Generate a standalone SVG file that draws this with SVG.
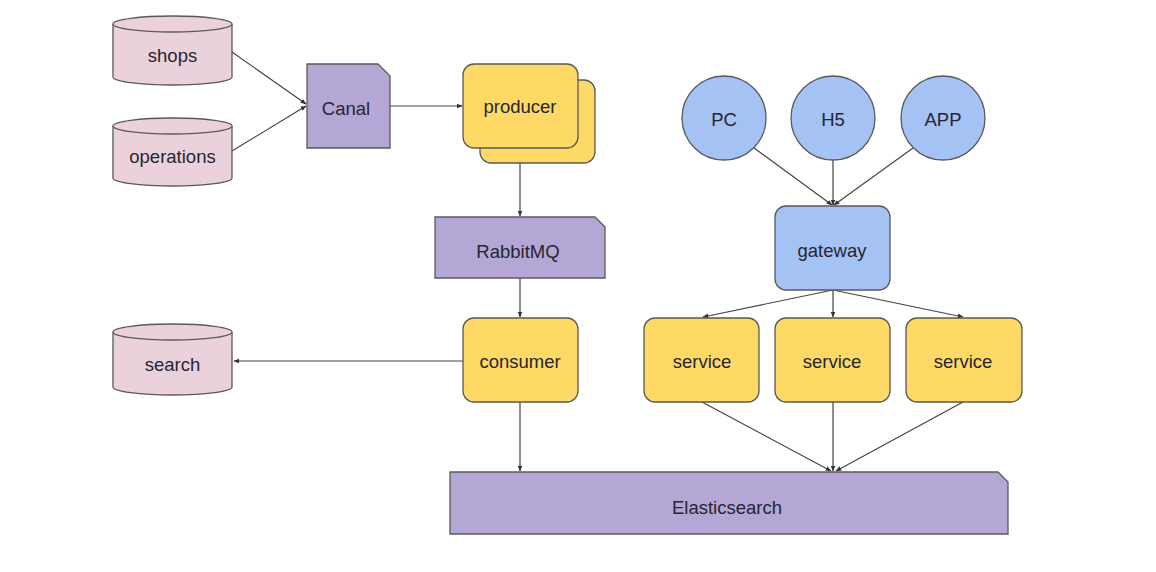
<svg xmlns="http://www.w3.org/2000/svg" width="1156" height="572" viewBox="0 0 1156 572">
<style>
.t{font-family:"Liberation Sans",Arial,sans-serif;font-size:18.5px;fill:#262630;text-anchor:middle;dominant-baseline:central}
.db{fill:#ead1dc;stroke:#595959;stroke-width:1.3}
.pu{fill:#b4a7d6;stroke:#595959;stroke-width:1.3}
.ye{fill:#ffd966;stroke:#595959;stroke-width:1.3}
.bl{fill:#a4c2f4;stroke:#595959;stroke-width:1.3}
.c{fill:none;stroke:#444;stroke-width:1.2;marker-end:url(#a)}
</style>
<defs>
<marker id="a" viewBox="0 0 10 10" refX="9" refY="5" markerWidth="6" markerHeight="6" orient="auto" markerUnits="userSpaceOnUse">
<path d="M0,1 L10,5 L0,9 z" fill="#333"/>
</marker>
</defs>
<rect width="1156" height="572" fill="#fff"/>
<g id="connectors">
<path class="c" d="M232,52 L306,104"/>
<path class="c" d="M232,151 L306,106"/>
<path class="c" d="M390,106 L462,106"/>
<path class="c" d="M520,148 L520,216"/>
<path class="c" d="M520,278 L520,317"/>
<path class="c" d="M463,361 L234,361"/>
<path class="c" d="M520,402 L520,471"/>
<path class="c" d="M754,148 L832,205"/>
<path class="c" d="M833,160 L833,205"/>
<path class="c" d="M913,148 L834,205"/>
<path class="c" d="M833,290 L703,317"/>
<path class="c" d="M833,290 L833,317"/>
<path class="c" d="M833,290 L963,317"/>
<path class="c" d="M702,402 L831,471"/>
<path class="c" d="M833,402 L833,471"/>
<path class="c" d="M963,402 L836,471"/>
</g>
<g id="shops">
<path class="db" d="M113,24 L113,77 A59.5,8 0 0 0 232,77 L232,24"/>
<ellipse class="db" cx="172.5" cy="24" rx="59.5" ry="8"/>
<text class="t" x="172.5" y="55">shops</text>
</g>
<g id="operations">
<path class="db" d="M113,126 L113,178 A59.5,8 0 0 0 232,178 L232,126"/>
<ellipse class="db" cx="172.5" cy="126" rx="59.5" ry="8"/>
<text class="t" x="172.5" y="156">operations</text>
</g>
<g id="search">
<path class="db" d="M113,332 L113,387 A59.5,8 0 0 0 232,387 L232,332"/>
<ellipse class="db" cx="172.5" cy="332" rx="59.5" ry="8"/>
<text class="t" x="172.5" y="364">search</text>
</g>
<g id="canal">
<path class="pu" d="M307,64 L378,64 L390,76 L390,148 L307,148 z"/>
<text class="t" x="346" y="108">Canal</text>
</g>
<g id="producer">
<rect class="ye" x="480" y="80" width="115" height="83" rx="11"/>
<rect class="ye" x="463" y="64" width="115" height="84" rx="11"/>
<text class="t" x="520" y="106">producer</text>
</g>
<g id="rabbitmq">
<path class="pu" d="M435,217 L595,217 L605,227 L605,278 L435,278 z"/>
<text class="t" x="518" y="251">RabbitMQ</text>
</g>
<g id="consumer">
<rect class="ye" x="463" y="318" width="115" height="84" rx="11"/>
<text class="t" x="520" y="361">consumer</text>
</g>
<g id="pc">
<circle class="bl" cx="724" cy="118" r="42"/>
<text class="t" x="724" y="119">PC</text>
</g>
<g id="h5">
<circle class="bl" cx="833" cy="118" r="42"/>
<text class="t" x="833" y="119">H5</text>
</g>
<g id="app">
<circle class="bl" cx="943" cy="118" r="42"/>
<text class="t" x="943" y="119">APP</text>
</g>
<g id="gateway">
<rect class="bl" x="775" y="206" width="115" height="84" rx="11"/>
<text class="t" x="832" y="250">gateway</text>
</g>
<g id="service1">
<rect class="ye" x="644" y="318" width="115" height="84" rx="11"/>
<text class="t" x="702" y="361">service</text>
</g>
<g id="service2">
<rect class="ye" x="775" y="318" width="115" height="84" rx="11"/>
<text class="t" x="832" y="361">service</text>
</g>
<g id="service3">
<rect class="ye" x="906" y="318" width="116" height="84" rx="11"/>
<text class="t" x="963" y="361">service</text>
</g>
<g id="elasticsearch">
<path class="pu" d="M450,472 L998,472 L1008,482 L1008,534 L450,534 z"/>
<text class="t" x="727" y="507">Elasticsearch</text>
</g>
</svg>
